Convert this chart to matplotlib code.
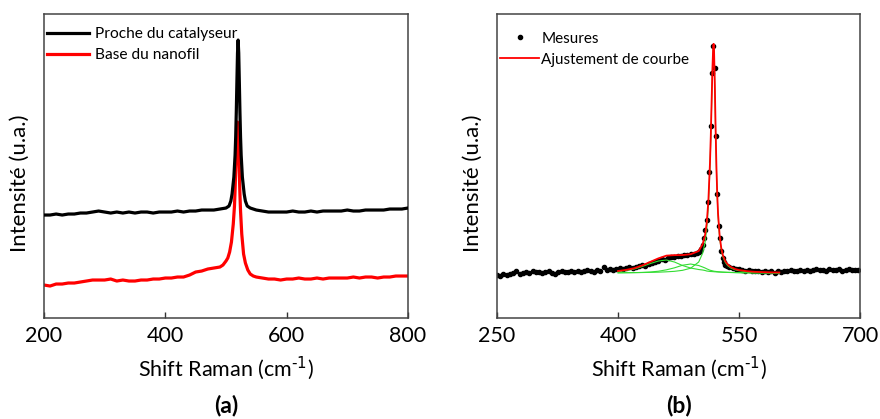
import numpy as np
import matplotlib.pyplot as plt

plt.rcParams['font.family'] = ['Lato', 'DejaVu Sans']

# ---- (a) spectres Raman : proche catalyseur / base du nanofil
xa_black = [200, 210, 220, 230, 240, 250, 260, 270, 280, 290, 300, 310, 320, 330, 340,
            350, 360, 370, 380, 390, 400, 410, 420, 430, 440, 450, 460, 470, 480, 490,
            500, 505, 508, 510, 513, 515, 516, 517, 518, 519, 520, 521, 522, 523, 524,
            525, 527, 530, 532, 535, 540,
            550, 560, 570, 580, 590, 600, 610, 620, 630, 640, 650, 660, 670, 680, 690,
            700, 710, 720, 730, 740, 750, 760, 770, 780, 790, 800]
ya_black = [103, 103, 104, 103, 104, 104, 105, 105, 106, 107, 106, 105, 106, 105, 106,
            105, 106, 106, 105, 106, 106, 106, 107, 106, 107, 107, 108, 108, 108, 109,
            110, 112, 117, 124, 141, 163, 181, 206, 236, 265, 278, 265, 236, 206, 181,
            163, 141, 124, 117, 112, 110,
            108, 107, 106, 106, 106, 106, 107, 106, 106, 107, 106, 107, 107, 107, 107,
            108, 107, 107, 108, 108, 108, 108, 109, 109, 109, 110]

xa_red = [200, 210, 220, 230, 240, 250, 260, 270, 280, 290, 300, 310, 320, 330, 340,
          350, 360, 370, 380, 390, 400, 410, 420, 430, 440, 450, 460, 470, 480, 490,
          495, 500, 503, 506, 509, 512, 514, 515, 516, 517, 518, 519, 520, 521, 522,
          523, 524, 526, 529, 532, 536, 540, 545,
          550, 560, 570, 580, 590, 600, 610, 620, 630, 640, 650, 660, 670, 680, 690,
          700, 710, 720, 730, 740, 750, 760, 770, 780, 790, 800]
ya_red = [33, 32, 34, 34, 35, 35, 36, 37, 38, 38, 38, 39, 37, 38, 37,
          37, 38, 38, 39, 39, 40, 40, 41, 41, 43, 46, 47, 49, 50, 51,
          53, 57, 60, 66, 76, 94, 112, 128, 148, 168, 185, 196, 185, 166, 144,
          124, 107, 84, 64, 55, 48, 44, 42,
          41, 40, 39, 39, 38, 39, 39, 40, 39, 39, 40, 39, 40, 40, 40,
          40, 41, 40, 41, 41, 40, 41, 41, 42, 42, 42]

# ---- (b) mesures + ajustement
xb_low = list(range(250, 500, 4))
yb_low = [43, 42.5, 44, 43.5, 44, 45, 47.5, 44.5, 45, 46, 45.5, 47, 46, 46.5, 45,
          46.5, 47, 45.5, 44.5, 46, 47, 46, 46.5, 47.5, 46, 47, 46.5, 47, 48, 47,
          46.5, 48, 47.5, 51, 48, 49, 48.5, 49.5, 50, 49, 50.5, 51, 50, 51.5, 52.5,
          53, 52, 54, 55.5, 56, 57.5, 59, 58.5, 60, 61, 61.5, 62, 62.5, 63, 63.5,
          64, 64.5, 65.5]
xb_peak = [500.0, 501.7, 503.3, 505.0, 506.6, 508.3, 509.9, 511.6, 513.2, 514.9, 516.5,
           518.2, 519.8, 521.5, 523.1, 524.8, 526.4, 528.1, 529.7, 531.4, 533.0, 534.7]
yb_peak = [66, 67, 69, 73, 80, 88, 98, 116, 146, 192, 245,
           272, 250, 182, 124, 92, 80, 67, 60, 56, 53, 52]
xb_high = list(range(538, 701, 4))
yb_high = [51, 50, 49.5, 49, 48, 47.5, 48, 47, 47.5, 47, 46.5, 47.5, 46, 47, 45.5,
           47, 46.5, 47.5, 47, 48, 47, 47.5, 48.5, 47, 48, 47.5, 48.5, 49, 48, 48.5,
           47.5, 49, 48, 48.5, 49, 47.5, 48.5, 49, 48, 48.5, 48]

fit_x = [400, 410, 420, 430, 440, 450, 460, 470, 480, 490, 500, 505, 508, 510, 512,
         514, 515, 516, 517, 518, 518.5, 519, 520, 521, 522, 523, 524, 526, 528, 530,
         533, 536, 540, 545, 550, 560, 570, 580, 590, 600]
fit_base = 45
comp1 = [1.5, 2.5, 4, 6.5, 9.5, 12, 13, 11, 7.5, 5, 3.5, 3, 2.5, 2, 1.8,
         1.6, 1.5, 1.5, 1.4, 1.4, 1.3, 1.3, 1.2, 1.2, 1.1, 1.1, 1, 1, 0.9, 0.8,
         0.7, 0.6, 0.5, 0.4, 0.3, 0.2, 0.1, 0.1, 0.1, 0.1]
comp2 = [0.2, 0.3, 0.4, 0.6, 1, 1.8, 3.2, 5.2, 7.8, 9, 7.5, 6, 5, 4.2, 3.5,
         2.8, 2.6, 2.4, 2.2, 2, 1.9, 1.8, 1.7, 1.6, 1.5, 1.4, 1.3, 1.1, 1, 0.9,
         0.8, 0.7, 0.6, 0.5, 0.4, 0.3, 0.2, 0.2, 0.1, 0.1]
comp3 = [0.3, 0.34, 0.4, 0.5, 0.65, 0.85, 1.2, 1.7, 2.7, 4.8, 11, 20, 31, 44, 67,
         106, 133, 167, 200, 223, 226, 221, 185, 140, 103, 76, 57, 35, 23, 16,
         10.5, 7.3, 4.9, 3.2, 2.3, 1.3, 0.87, 0.6, 0.45, 0.35]

c1 = np.array(comp1) + fit_base
c2 = np.array(comp2) + fit_base
c3 = np.array(comp3) + fit_base
fit_total = fit_base + np.array(comp1) + np.array(comp2) + np.array(comp3)

xb = xb_low + xb_peak + xb_high
yb = yb_low + yb_peak + yb_high

fig = plt.figure(figsize=(8.8, 4.19), dpi=100)
ax1 = fig.add_axes([0.05, 0.241, 0.4136, 0.7255])
ax2 = fig.add_axes([0.5648, 0.241, 0.4125, 0.7255])

ax1.plot(xa_red, ya_red, color='#ff0000', lw=2.3, label='Base du nanofil', zorder=2)
ax1.plot(xa_black, ya_black, color='black', lw=2.3, label='Proche du catalyseur', zorder=3)
ax1.set_xlim(200, 800)
ax1.set_xticks([200, 400, 600, 800])
h, l = ax1.get_legend_handles_labels()
ax1.legend(h[::-1], l[::-1], loc='upper left', bbox_to_anchor=(0.0, 0.967),
           frameon=False, fontsize=11.2,
           handlelength=2.7, handletextpad=0.4, labelspacing=0.45,
           borderaxespad=0.0, borderpad=0.2)

ax2.plot(xb, yb, 'o', color='black', ms=3.0, label='Mesures', zorder=2)
ax2.plot(fit_x, c1, color='#33dd33', lw=0.8, zorder=3)
ax2.plot(fit_x, c2, color='#33dd33', lw=0.8, zorder=3)
ax2.plot(fit_x, c3, color='#33dd33', lw=0.8, zorder=3)
ax2.plot(fit_x, fit_total, color='#ff0000', lw=1.3, label='Ajustement de courbe', zorder=4)
ax2.set_xlim(250, 700)
ax2.set_xticks([250, 400, 550, 700])
ax2.legend(loc='upper left', bbox_to_anchor=(0.0, 0.952),
           frameon=False, fontsize=11,
           handlelength=2.55, handletextpad=0.15, labelspacing=0.45,
           borderaxespad=0.0, borderpad=0.2)

for ax, tag in [(ax1, '(a)'), (ax2, '(b)')]:
    ax.set_ylim(0, 304)
    ax.set_yticks([])
    ax.tick_params(axis='x', direction='in', length=4, width=1, labelsize=15.5,
                   pad=6, color='#333333')
    for s in ax.spines.values():
        s.set_color('#444444')
        s.set_linewidth(1.1)
    ax.set_xlabel('Shift Raman (cm$^{\\text{-1}}$)', fontsize=15.5, labelpad=6)
    ax.set_ylabel('Intensité (u.a.)', fontsize=16)
    ax.yaxis.set_label_coords(-0.04, 0.444)
    ax.text(0.5, -0.288, tag, transform=ax.transAxes, ha='center', va='center',
            fontsize=16.5, fontweight='bold')

fig.savefig('out.png', dpi=100)
